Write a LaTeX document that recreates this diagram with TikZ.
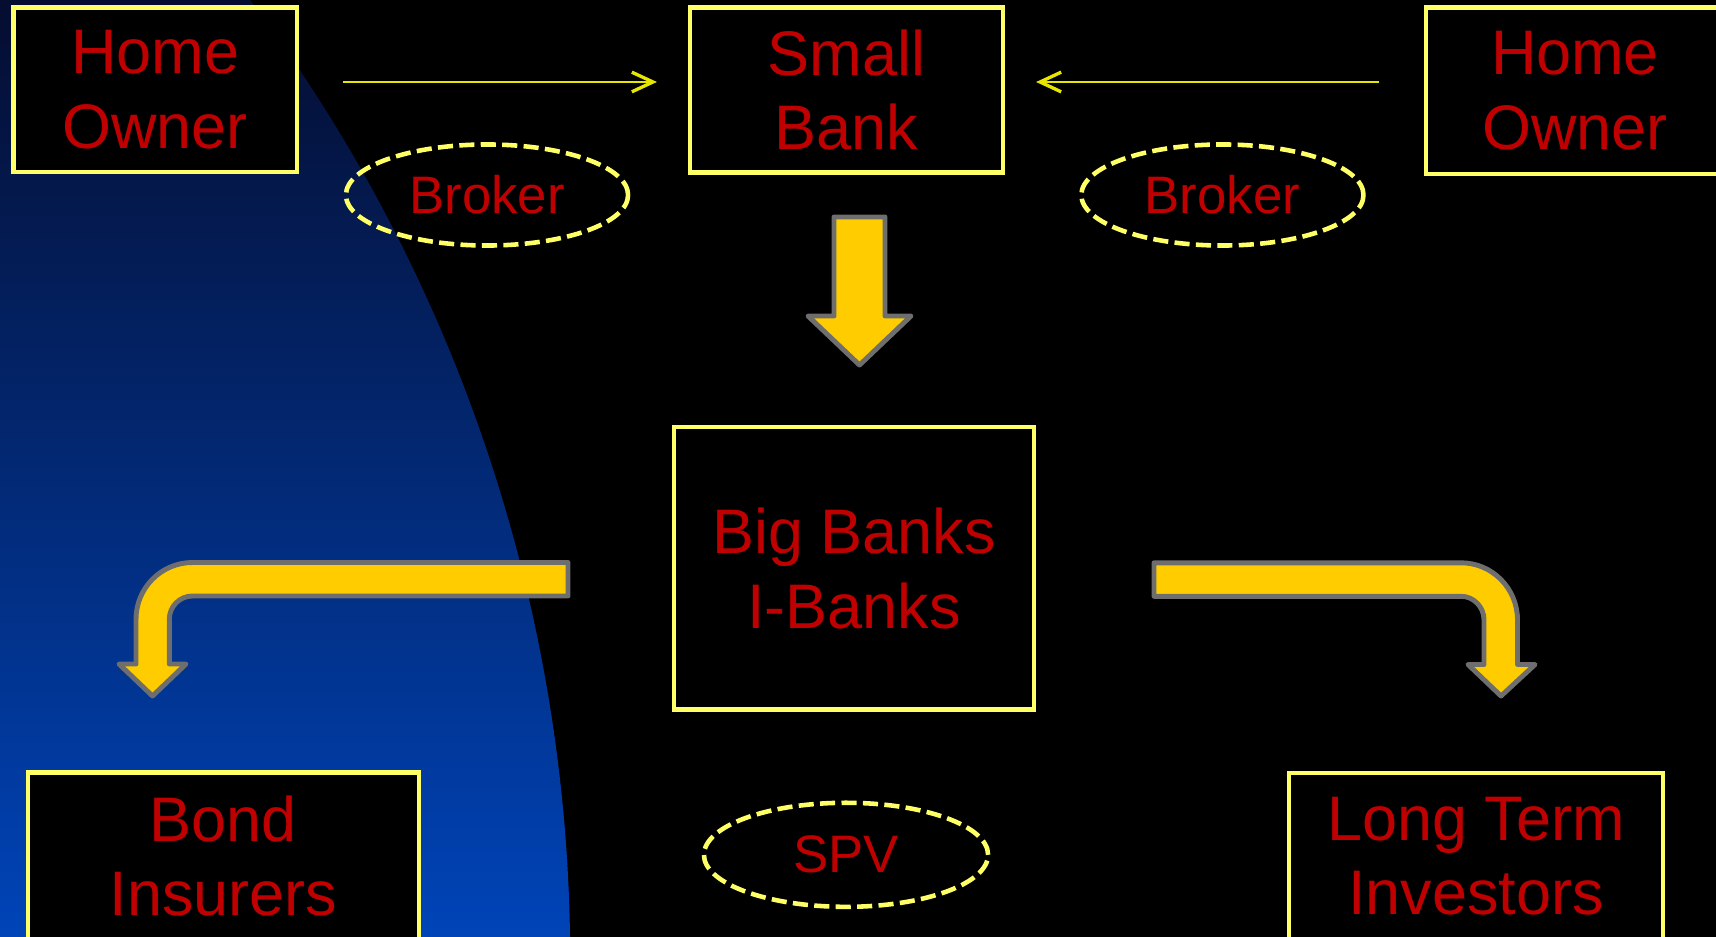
\documentclass[tikz,border=0pt]{standalone}
\usepackage{fontspec}
\setmainfont{Liberation Sans}
\usetikzlibrary{shapes.geometric,arrows.meta}
\definecolor{bx}{HTML}{FFFF66}
\definecolor{txt}{HTML}{C00000}
\definecolor{arrfill}{HTML}{FFCC00}
\definecolor{arrline}{HTML}{6E6E6E}
\definecolor{thinl}{HTML}{E6E600}
\definecolor{bgtop}{HTML}{050D30}
\definecolor{bgbot}{HTML}{0044B8}
\begin{document}
\begin{tikzpicture}[x=0.01cm,y=-0.01cm,
  box/.style={draw=bx, fill=black, line width=1.3pt, rectangle, outer sep=0pt, inner sep=0pt,
    text=txt, align=center, font=\fontsize{17.9}{21.2}\selectfont},
  oval/.style={draw=bx, ellipse, line width=1.3pt, dash pattern=on 4.3pt off 1.8pt,
    outer sep=0pt, inner sep=0pt, text=txt, font=\fontsize{15}{18}\selectfont},
  blockarrow/.style={fill=arrfill, draw=arrline, line width=1.4pt, line join=round},
  thinarrow/.style={draw=thinl, line width=0.6pt,
    -{Straight Barb[length=6pt,width=5.6pt,line width=0.95pt]}}
]
\useasboundingbox (0,0) rectangle (1716,937);
\fill[black] (0,0) rectangle (1716,937);
% blue background region
\shade[top color=bgtop, bottom color=bgbot]
  (0,0) -- plot[domain=0:9.37, samples=60]
  ({100*(-10.277+sqrt(255.32-(\x-9.595)^2))},{100*\x}) -- (0,937) -- cycle;

% boxes
\node[box, minimum width=2.835cm, minimum height=1.645cm] (hoL) at (155.25,89.75) {Home\\Owner};
\node[box, minimum width=3.13cm, minimum height=1.65cm] (sb) at (846.5,90) {Small\\Bank};
\node[box, minimum width=2.98cm, minimum height=1.665cm] (hoR) at (1575,90.75) {Home\\Owner};
\node[box, minimum width=3.60cm, minimum height=2.825cm] (bb) at (854,568.25) {Big Banks\\I-Banks};
\node[box, minimum width=3.904cm, minimum height=1.672cm] (bi) at (223.5,856) {Bond\\Insurers};
\node[box, minimum width=3.74cm, minimum height=1.666cm] (lt) at (1476,856.3) {Long Term\\Investors};

% ovals
\node[oval, minimum width=2.82cm, minimum height=1.01cm] (brL) at (487,195) {Broker};
\node[oval, minimum width=2.82cm, minimum height=1.01cm] (brR) at (1222.4,195) {Broker};
\node[oval, minimum width=2.84cm, minimum height=1.04cm] (spv) at (846,854.8) {SPV};

% thin arrows
\coordinate (yline) at (0,82);
\draw[thinarrow, shorten <=0.46cm, shorten >=0.33cm] (hoL.east |- yline) -- (sb.west |- yline);
\draw[thinarrow, shorten <=0.47cm, shorten >=0.33cm] (hoR.west |- yline) -- (sb.east |- yline);

% block arrow down
\draw[blockarrow] (834,217) -- (885,217) -- (885,316) -- (911,316) -- (859.5,365)
  -- (808,316) -- (834,316) -- cycle;

% bent arrow left
\draw[blockarrow] (568,562.5) -- (192.5,562.5)
  .. controls (161.3,562.5) and (136,587.9) .. (136,619.3)
  -- (136,664) -- (119,664) -- (152.5,696) -- (186,664) -- (169.3,664) -- (169.3,619.3)
  .. controls (169.3,606.4) and (179.7,596) .. (192.5,596)
  -- (568,596) -- cycle;

% bent arrow right
\draw[blockarrow] (1154,562.8) -- (1461,562.8)
  .. controls (1492.2,562.8) and (1517.5,588.4) .. (1517.5,620)
  -- (1517.5,664.5) -- (1535,664.5) -- (1501,696) -- (1468,664.5) -- (1484,664.5) -- (1484,620)
  .. controls (1484,607) and (1473.7,596.3) .. (1461,596.3)
  -- (1154,596.3) -- cycle;
\end{tikzpicture}
\end{document}
